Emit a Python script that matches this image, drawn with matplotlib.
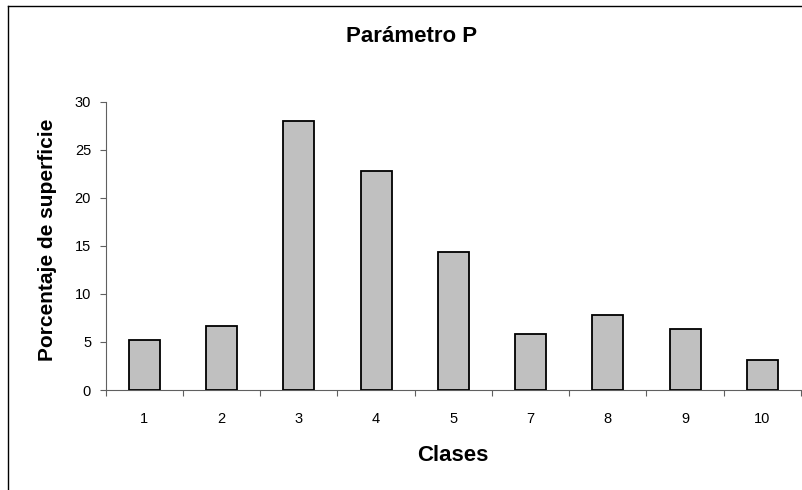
import matplotlib
matplotlib.use("Agg")
import matplotlib.pyplot as plt
import numpy as np
from matplotlib.lines import Line2D

plt.rcParams['font.family'] = ['Liberation Sans', 'DejaVu Sans']

clases = ['1', '2', '3', '4', '5', '7', '8', '9', '10']
porcentaje = [5.2, 6.7, 28.0, 22.8, 14.4, 5.8, 7.8, 6.3, 3.1]
yticks = [0, 5, 10, 15, 20, 25, 30]

W, H = 803, 490
fig = plt.figure(figsize=(W / 100, H / 100), dpi=100)
ax = fig.add_axes([105.7 / W, 1 - 390 / H, (801 - 105.7) / W, (390 - 101.5) / H])

x = np.arange(len(clases))
ax.bar(x, porcentaje, width=0.4, color='#C0C0C0', edgecolor='black', linewidth=1.3, zorder=3)

ax.set_xlim(-0.5, len(clases) - 0.5)
ax.set_ylim(0, 30)
ax.set_yticks(yticks)
ax.set_xticks(x)
ax.set_xticklabels(clases)
ax.set_xticks(np.arange(len(clases) + 1) - 0.5, minor=True)

axcol = '#606060'
for s in ['top', 'right']:
    ax.spines[s].set_visible(False)
for s in ['left', 'bottom']:
    ax.spines[s].set_color(axcol)
    ax.spines[s].set_linewidth(0.8)

ax.tick_params(axis='y', direction='out', length=4.5, width=0.8, color=axcol,
               labelsize=10.5, pad=6)
ax.tick_params(axis='x', which='major', length=0, labelsize=10.5, pad=15.5)
ax.tick_params(axis='x', which='minor', direction='out', length=4.5, width=0.8, color=axcol)

fig.text(411.7 / W, 1 - 37 / H, 'Parámetro P', ha='center', va='center',
         fontsize=16, fontweight='bold')
fig.text(453 / W, 1 - 455 / H, 'Clases', ha='center', va='center',
         fontsize=16, fontweight='bold')
fig.text(48 / W, 1 - 240 / H, 'Porcentaje de superficie', ha='center', va='center',
         rotation=90, fontsize=15, fontweight='bold')

# chart area border (only left and top edges are inside the picture)
fig.add_artist(Line2D([8 / W, 8 / W], [0, 1 - 6.5 / H], color='black', linewidth=1.0,
                      transform=fig.transFigure))
fig.add_artist(Line2D([8 / W, 1], [1 - 6.5 / H, 1 - 6.5 / H], color='black', linewidth=1.0,
                      transform=fig.transFigure))

fig.savefig('out.png', dpi=100)
